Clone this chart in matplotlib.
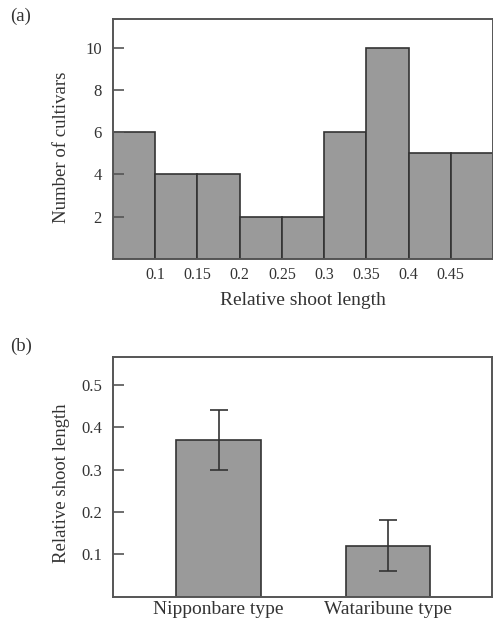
import matplotlib
matplotlib.use("Agg")
import matplotlib.pyplot as plt
import numpy as np

plt.rcParams['font.family'] = ['Liberation Serif', 'DejaVu Serif']

# (a) histogram of relative shoot length
bin_edges = [0.05, 0.1, 0.15, 0.2, 0.25, 0.3, 0.35, 0.4, 0.45, 0.5]
counts = [6, 4, 4, 2, 2, 6, 10, 5, 5]
hist_xticks = [0.1, 0.15, 0.2, 0.25, 0.3, 0.35, 0.4, 0.45]
hist_yticks = [2, 4, 6, 8, 10]

# (b) mean relative shoot length by type
types = ["Nipponbare type", "Wataribune type"]
means = [0.37, 0.12]
errs = [0.07, 0.06]
bar_yticks = [0.1, 0.2, 0.3, 0.4, 0.5]

W, H = 493, 619
fig = plt.figure(figsize=(W / 100, H / 100), dpi=100)

bar_fc = '#9a9a9a'
edge = '#333333'
spine_c = '#555555'
txt_c = '#333333'

def style(ax):
    for s in ax.spines.values():
        s.set_color(spine_c)
        s.set_linewidth(1.4)
    ax.tick_params(axis='x', length=0, labelsize=11.5, colors=txt_c, pad=6)
    ax.tick_params(axis='y', direction='in', length=8, width=1.2, color=spine_c,
                   labelsize=12, labelcolor=txt_c, pad=8)

# top panel
ax1 = fig.add_axes([113 / W, 1 - 259 / H, 380 / W, 240 / H])
widths = np.diff(bin_edges)
ax1.bar(bin_edges[:-1], counts, width=widths, align='edge', color=bar_fc,
        edgecolor=edge, linewidth=1.2)
ax1.set_xlim(0.05, 0.5)
ax1.set_ylim(0, 11.35)
ax1.set_xticks(hist_xticks)
ax1.set_xticklabels([f"{t:g}" for t in hist_xticks])
ax1.set_yticks(hist_yticks)
ax1.set_ylabel("Number of cultivars", fontsize=13.5, color=txt_c)
ax1.yaxis.set_label_coords(-0.113, 0.467)
ax1.set_xlabel("Relative shoot length", fontsize=14, color=txt_c, labelpad=6)
style(ax1)

# bottom panel
ax2 = fig.add_axes([113 / W, 1 - 596.6 / H, 379 / W, 239.6 / H])
x = np.arange(len(types))
ax2.bar(x, means, width=0.5, color=bar_fc, edgecolor=edge, linewidth=1.2)
ax2.errorbar(x, means, yerr=errs, fmt='none', ecolor=txt_c, elinewidth=1.2,
             capsize=6.5, capthick=1.2)
ax2.set_xlim(-0.624, 1.614)
ax2.set_ylim(0, 0.566)
ax2.set_xticks(x)
ax2.set_xticklabels(types)
ax2.set_yticks(bar_yticks)
ax2.set_yticklabels([f"{t:g}" for t in bar_yticks])
ax2.set_ylabel("Relative shoot length", fontsize=13.5, color=txt_c)
ax2.yaxis.set_label_coords(-0.113, 0.474)
style(ax2)
ax2.tick_params(axis='x', labelsize=14, pad=3)

fig.text(10 / W, 1 - 16 / H, "(a)", fontsize=13.5, color=txt_c, va='center')
fig.text(10 / W, 1 - 346 / H, "(b)", fontsize=13.5, color=txt_c, va='center')

fig.savefig("out.png", dpi=100)
